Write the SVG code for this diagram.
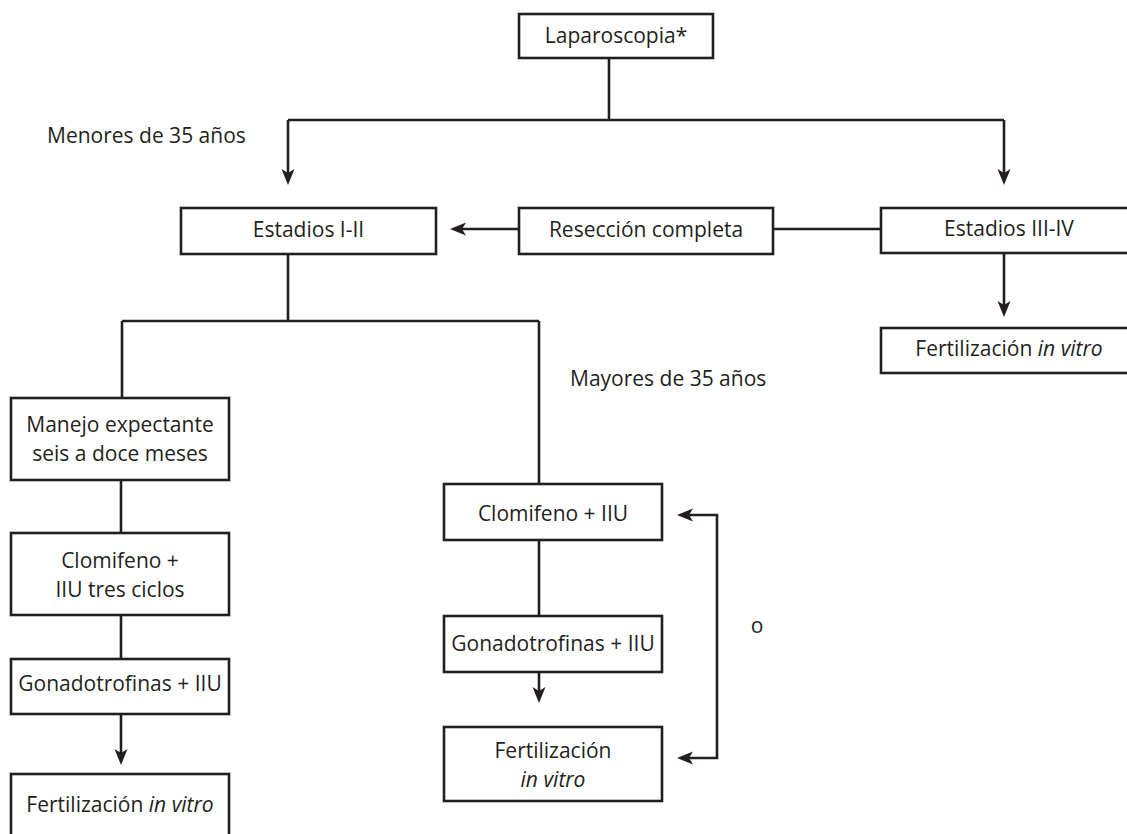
<svg xmlns="http://www.w3.org/2000/svg" width="1127" height="834" viewBox="0 0 1127 834">
<style>
.box{fill:#fff;stroke:#231f20;stroke-width:2.6}
.ln{fill:none;stroke:#231f20;stroke-width:2.6}
text{font-family:"Open Sans","Noto Sans",sans-serif;font-size:21px;fill:#231f20}
.c{text-anchor:middle}
.i{font-style:italic}
</style>
<defs>
<marker id="arr" markerUnits="userSpaceOnUse" viewBox="0 -8 17 16" refX="8" refY="0" markerWidth="17" markerHeight="16" orient="auto-start-reverse" overflow="visible">
<path d="M16,0 L0,-6.5 L4,0 L0,6.5 Z" fill="#231f20"/>
</marker>
</defs>
<rect width="1127" height="834" fill="#fff"/>
<g id="connectors">
<path class="ln" d="M609,58 V120 M288,120 H1004"/>
<path class="ln" d="M288,120 V177" marker-end="url(#arr)"/>
<path class="ln" d="M1004,120 V177" marker-end="url(#arr)"/>
<path class="ln" d="M519,229 H458" marker-end="url(#arr)"/>
<path class="ln" d="M773,229 H881"/>
<path class="ln" d="M1004,253 V309" marker-end="url(#arr)"/>
<path class="ln" d="M288,254 V321 M122,321 H539 M122,321 V398 M539,321 V484"/>
<path class="ln" d="M121,480 V533 M121,615 V659"/>
<path class="ln" d="M121,714 V757" marker-end="url(#arr)"/>
<path class="ln" d="M539,540 V616"/>
<path class="ln" d="M539,672 V695" marker-end="url(#arr)"/>
<path class="ln" d="M685,515 H717 V758 H685" marker-start="url(#arr)" marker-end="url(#arr)"/>
</g>
<g id="n-laparoscopia"><rect class="box" x="519" y="14" width="194" height="44"/><text class="c" x="616" y="43">Laparoscopia*</text></g>
<g id="n-estadios12"><rect class="box" x="181" y="208" width="255" height="46"/><text class="c" x="308.5" y="237">Estadios I-II</text></g>
<g id="n-reseccion"><rect class="box" x="519" y="208" width="254" height="46"/><text class="c" x="646" y="237">Resección completa</text></g>
<g id="n-estadios34"><rect class="box" x="881" y="208" width="257" height="45"/><text class="c" x="1009" y="236">Estadios III-IV</text></g>
<g id="n-fiv-right"><rect class="box" x="881" y="328" width="257" height="45"/><text class="c" x="1009" y="356">Fertilización <tspan class="i">in vitro</tspan></text></g>
<g id="n-manejo"><rect class="box" x="11" y="398" width="218" height="82"/><text class="c" x="120" y="432">Manejo expectante</text><text class="c" x="120" y="461">seis a doce meses</text></g>
<g id="n-clomifeno-left"><rect class="box" x="11" y="533" width="218" height="82"/><text class="c" x="120" y="568">Clomifeno +</text><text class="c" x="120" y="597">IIU tres ciclos</text></g>
<g id="n-gonado-left"><rect class="box" x="11" y="659" width="218" height="55"/><text class="c" x="120" y="691">Gonadotrofinas + IIU</text></g>
<g id="n-fiv-left"><rect class="box" x="11" y="774" width="218" height="70"/><text class="c" x="120" y="812">Fertilización <tspan class="i">in vitro</tspan></text></g>
<g id="n-clomifeno-mid"><rect class="box" x="444" y="484" width="218" height="56"/><text class="c" x="553" y="521">Clomifeno + IIU</text></g>
<g id="n-gonado-mid"><rect class="box" x="444" y="616" width="218" height="56"/><text class="c" x="553" y="651">Gonadotrofinas + IIU</text></g>
<g id="n-fiv-mid"><rect class="box" x="444" y="727" width="218" height="74"/><text class="c" x="553" y="758">Fertilización</text><text class="c i" x="553" y="787">in vitro</text></g>
<g id="labels">
<text x="47" y="143">Menores de 35 años</text>
<text x="570" y="386">Mayores de 35 años</text>
<text class="c" x="757" y="633">o</text>
</g>
</svg>
